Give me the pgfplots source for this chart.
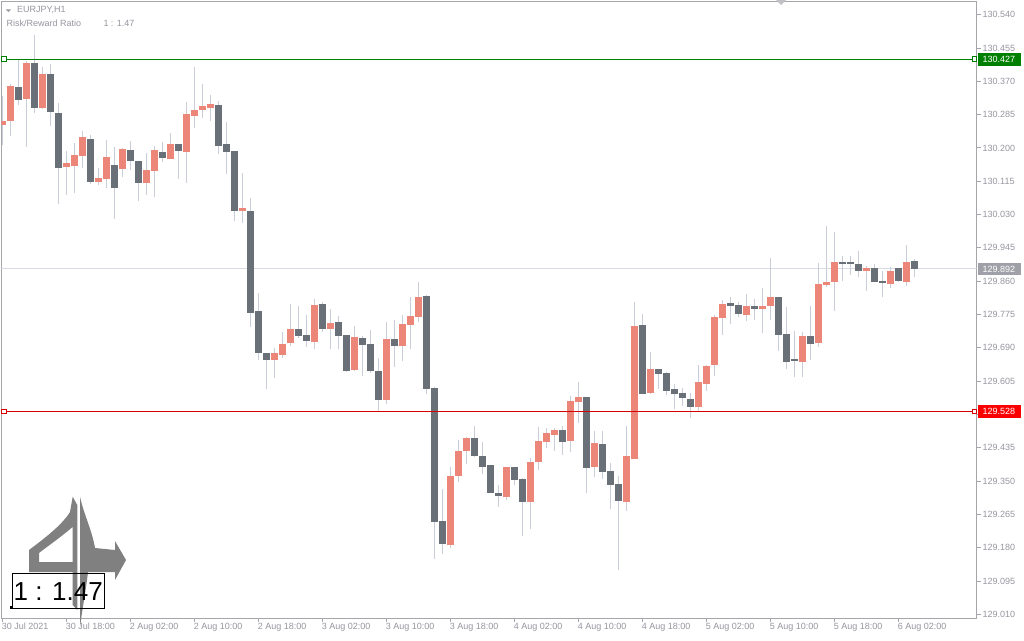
\documentclass[border=0pt]{standalone}
\usepackage{pgfplots}
\pgfplotsset{compat=1.18}
\usepackage{pgfplotstable}
\usepackage{fontspec}
\setmainfont{Liberation Sans}
\definecolor{bull}{RGB}{236,134,120}
\definecolor{bear}{RGB}{106,112,120}
\definecolor{wick}{RGB}{200,205,216}
\definecolor{framec}{RGB}{165,165,170}
\definecolor{lbl}{RGB}{150,150,160}
\definecolor{tpgreen}{RGB}{0,128,0}
\definecolor{slred}{RGB}{215,0,0}
\definecolor{boxred}{RGB}{250,0,0}
\definecolor{bidgray}{RGB}{218,218,226}
\definecolor{bidbox}{RGB}{160,160,168}
\definecolor{logoc}{RGB}{128,128,128}

\pgfplotstableread{
i o h l c
0 130.259 130.333 130.210 130.271
1 130.269 130.363 130.230 130.358
3 130.325 130.422 130.202 130.417
5 130.302 130.409 130.302 130.389
8 130.151 130.192 130.080 130.162
9 130.156 130.213 130.085 130.182
10 130.179 130.246 130.151 130.228
12 130.113 130.151 130.108 130.123
13 130.123 130.220 130.098 130.179
15 130.146 130.202 130.128 130.197
18 130.111 130.187 130.080 130.144
19 130.141 130.207 130.075 130.195
21 130.174 130.238 130.174 130.210
23 130.192 130.317 130.111 130.287
24 130.284 130.407 130.251 130.299
25 130.297 130.363 130.276 130.307
26 130.304 130.335 130.269 130.312
30 130.039 130.136 130.008 130.049
34 129.661 129.692 129.615 129.677
35 129.672 129.730 129.664 129.702
36 129.702 129.802 129.695 129.738
39 129.705 129.815 129.687 129.799
41 129.738 129.789 129.689 129.753
44 129.633 129.746 129.631 129.718
48 129.557 129.758 129.549 129.712
50 129.695 129.776 129.659 129.751
51 129.748 129.820 129.687 129.771
52 129.769 129.858 129.758 129.822
56 129.189 129.386 129.179 129.365
57 129.363 129.457 129.350 129.427
58 129.427 129.462 129.393 129.460
63 129.309 129.388 129.302 129.386
66 129.296 129.409 129.228 129.399
67 129.399 129.490 129.378 129.452
68 129.450 129.485 129.434 129.473
69 129.470 129.485 129.427 129.483
71 129.452 129.567 129.424 129.554
72 129.552 129.603 129.498 129.564
74 129.386 129.480 129.363 129.447
78 129.299 129.490 129.273 129.416
79 129.409 129.807 129.409 129.746
81 129.575 129.679 129.572 129.636
87 129.539 129.646 129.529 129.603
88 129.598 129.646 129.580 129.644
89 129.646 129.774 129.618 129.769
90 129.766 129.812 129.723 129.804
93 129.776 129.830 129.761 129.797
95 129.789 129.843 129.730 129.799
96 129.797 129.919 129.763 129.820
100 129.654 129.730 129.615 129.720
102 129.702 129.906 129.692 129.853
103 129.853 130.001 129.845 129.860
104 129.860 129.985 129.784 129.911
108 129.886 129.899 129.835 129.894
111 129.855 129.896 129.843 129.889
113 129.860 129.952 129.848 129.911
}\bulltab

\pgfplotstableread{
i o h l c
2 130.358 130.427 130.310 130.325
4 130.417 130.488 130.289 130.302
6 130.389 130.414 130.256 130.292
7 130.289 130.315 130.057 130.149
11 130.225 130.233 130.108 130.113
14 130.159 130.202 130.019 130.100
16 130.197 130.218 130.144 130.169
17 130.169 130.169 130.065 130.111
20 130.192 130.215 130.164 130.177
22 130.210 130.210 130.123 130.192
27 130.312 130.320 130.185 130.207
28 130.210 130.266 130.134 130.190
29 130.192 130.195 130.016 130.039
31 130.039 130.072 129.743 129.779
32 129.784 129.830 129.659 129.677
33 129.679 129.679 129.585 129.661
37 129.738 129.799 129.715 129.720
38 129.723 129.774 129.692 129.707
40 129.802 129.807 129.730 129.738
42 129.756 129.771 129.687 129.720
43 129.723 129.723 129.628 129.633
45 129.715 129.720 129.618 129.697
46 129.700 129.735 129.626 129.631
47 129.633 129.664 129.529 129.557
49 129.712 129.763 129.641 129.695
53 129.822 129.825 129.572 129.585
54 129.587 129.590 129.151 129.245
55 129.248 129.330 129.166 129.189
59 129.460 129.490 129.411 129.414
60 129.416 129.450 129.368 129.388
61 129.393 129.393 129.322 129.322
62 129.319 129.340 129.286 129.312
64 129.386 129.386 129.340 129.353
65 129.358 129.360 129.212 129.299
70 129.483 129.490 129.416 129.452
73 129.567 129.567 129.322 129.386
75 129.444 129.478 129.355 129.373
76 129.376 129.396 129.279 129.342
77 129.342 129.365 129.123 129.299
80 129.748 129.776 129.572 129.572
82 129.636 129.636 129.585 129.623
83 129.626 129.631 129.572 129.580
84 129.585 129.598 129.534 129.572
85 129.575 129.587 129.541 129.564
86 129.559 129.575 129.511 129.539
91 129.804 129.820 129.751 129.797
92 129.799 129.807 129.769 129.776
94 129.797 129.815 129.761 129.789
97 129.820 129.820 129.682 129.725
98 129.728 129.794 129.636 129.656
99 129.661 129.735 129.618 129.656
101 129.720 129.797 129.659 129.700
105 129.911 129.924 129.860 129.906
106 129.909 129.924 129.876 129.904
107 129.906 129.937 129.871 129.886
109 129.894 129.906 129.858 129.858
110 129.860 129.886 129.820 129.855
112 129.894 129.894 129.858 129.860
114 129.911 129.917 129.871 129.892
}\beartab

\begin{document}
\begin{tikzpicture}
\fill[white] (0pt,0pt) rectangle (1024pt,-640pt);
\begin{axis}[
  at={(1.5pt,-618pt)}, anchor=south west,
  width=975pt, height=617pt, scale only axis,
  xmin=-0.1, xmax=121.78, ymin=129.0006, ymax=130.575,
  axis line style={draw=framec, line width=1pt},
  ytick={129.010,129.095,129.180,129.265,129.350,129.435,129.520,129.605,129.690,129.775,129.860,129.945,130.030,130.115,130.200,130.285,130.370,130.455,130.540},
  yticklabels={129.010,129.095,129.180,129.265,129.350,129.435,,129.605,129.690,129.775,129.860,129.945,130.030,130.115,130.200,130.285,130.370,130.455,130.540},
  ytick pos=right, yticklabel pos=right,
  xtick={0,8,16,24,32,40,48,56,64,72,80,88,96,104,112},
  xticklabels={30 Jul 2021,30 Jul 18:00,2 Aug 02:00,2 Aug 10:00,2 Aug 18:00,3 Aug 02:00,3 Aug 10:00,3 Aug 18:00,4 Aug 02:00,4 Aug 10:00,4 Aug 18:00,5 Aug 02:00,5 Aug 10:00,5 Aug 18:00,6 Aug 02:00},
  xtick pos=bottom,
  tick align=outside, major tick length=4pt,
  tick style={draw=framec, line width=1pt},
  every tick label/.append style={font=\fontsize{9}{10}\selectfont, text=lbl},
  yticklabel style={anchor=west, inner sep=0pt, xshift=2pt},
  xticklabel style={anchor=north west, inner sep=0pt, xshift=-0.6pt, yshift=-1pt},
]
\addplot[bidgray, line width=1pt, forget plot] coordinates {(-0.1,129.892) (121.78,129.892)};
% wicks
\addplot[draw=none, mark=none, forget plot,
  error bars/.cd, y dir=both, y explicit, error mark=none,
  error bar style={line width=1pt, draw=wick}]
  table[x=i, y expr=(\thisrow{h}+\thisrow{l})/2, y error expr=(\thisrow{h}-\thisrow{l})/2] {\bulltab};
\addplot[draw=none, mark=none, forget plot,
  error bars/.cd, y dir=both, y explicit, error mark=none,
  error bar style={line width=1pt, draw=wick}]
  table[x=i, y expr=(\thisrow{h}+\thisrow{l})/2, y error expr=(\thisrow{h}-\thisrow{l})/2] {\beartab};
% bodies
\addplot[draw=none, mark=none, forget plot,
  error bars/.cd, y dir=both, y explicit, error mark=none,
  error bar style={line width=6.5pt, draw=bull}]
  table[x=i, y expr=(\thisrow{o}+\thisrow{c})/2, y error expr={max(abs(\thisrow{c}-\thisrow{o})/2,0.002)}] {\bulltab};
\addplot[draw=none, mark=none, forget plot,
  error bars/.cd, y dir=both, y explicit, error mark=none,
  error bar style={line width=6.5pt, draw=bear}]
  table[x=i, y expr=(\thisrow{o}+\thisrow{c})/2, y error expr={max(abs(\thisrow{c}-\thisrow{o})/2,0.002)}] {\beartab};
% levels
\addplot[tpgreen, line width=1pt, forget plot] coordinates {(-0.1,130.427) (121.78,130.427)};
\addplot[slred, line width=1pt, forget plot] coordinates {(-0.1,129.528) (121.78,129.528)};
\addplot[only marks, mark=square*, mark size=2.3pt, mark options={fill=white, draw=tpgreen, line width=0.9pt}, forget plot] coordinates {(0.22,130.427) (121.5,130.427)};
\addplot[only marks, mark=square*, mark size=2.3pt, mark options={fill=white, draw=slred, line width=0.9pt}, forget plot] coordinates {(0.22,129.528) (121.5,129.528)};
\end{axis}
\begin{scope}[x=1pt,y=-1pt]
% header
\fill[lbl] (5.7,9.3) -- (11,9.3) -- (8.35,12) -- cycle;
\node[anchor=base west, inner sep=0pt, text=lbl, font=\fontsize{9}{10}\selectfont] at (17,12.3) {EURJPY,H1};
\node[anchor=base west, inner sep=0pt, text=lbl, font=\fontsize{9}{10}\selectfont] at (6.5,26) {Risk/Reward Ratio};
\node[anchor=base west, inner sep=0pt, text=lbl, font=\fontsize{9}{10}\selectfont] at (103.3,26) {1 : 1.47};
\fill[lbl!60] (776,0) -- (786,0) -- (781,5) -- cycle;
% price boxes
\fill[tpgreen] (978,52.5) rectangle (1020.5,65.5);
\node[anchor=base west, inner sep=0pt, text=white, font=\fontsize{9}{10}\selectfont] at (982.5,62.3) {130.427};
\fill[bidbox] (978,262.5) rectangle (1020.5,275);
\node[anchor=base west, inner sep=0pt, text=white, font=\fontsize{9}{10}\selectfont] at (982.5,272) {129.892};
\fill[boxred] (978,404.5) rectangle (1020.5,417.5);
\node[anchor=base west, inner sep=0pt, text=white, font=\fontsize{9}{10}\selectfont] at (982.5,414.4) {129.528};
% logo
\fill[logoc] (72.7,496.7) -- (77.3,505) -- (77.3,610) -- (72.7,605) -- (72.5,527) .. controls (60,538) and (45,548) .. (39,553) -- (39,562) -- (72.5,562) -- (72.5,572) -- (29,572) -- (29,550) .. controls (45,538) and (62,525) .. (70,512) -- cycle;
\fill[logoc] (80,496.7) .. controls (84,515) and (92,530) .. (95,548) -- (115,550) -- (115,541) -- (126,560) -- (115,580) -- (115,572) -- (88,572) .. controls (86,590) and (82,610) .. (80,628) -- cycle;
% ratio box
\draw[black, line width=1pt] (12.5,573.5) rectangle (104.5,608);
\node[anchor=base west, inner sep=0pt, text=black, font=\fontsize{26}{28}\selectfont] at (13.5,600.7) {1 : 1.47};
\fill[black] (10,606) rectangle (12.5,608.5);
\end{scope}
\pgfresetboundingbox
\useasboundingbox (0pt,0pt) rectangle (1024pt,-640pt);
\end{tikzpicture}
\end{document}
